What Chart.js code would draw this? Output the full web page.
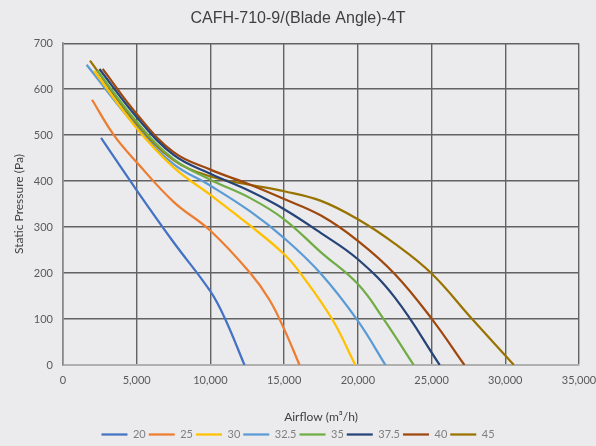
<!DOCTYPE html>
<html>
<head>
<meta charset="utf-8">
<script src="https://cdn.jsdelivr.net/npm/chart.js@4/dist/chart.umd.min.js"></script>
<style>
  html, body { margin: 0; padding: 0; background: #ebebed; }
  #wrap { width: 596px; height: 446px; }
</style>
</head>
<body>
<div id="wrap"><canvas id="c" width="596" height="446"></canvas></div>
<script>
// blade angles (legend) and colours
const angles = ['20', '25', '30', '32.5', '35', '37.5', '40', '45'];
const colors = ['#4472C4', '#ED7D31', '#FFC000', '#5B9BD5', '#70AD47', '#264478', '#9E480E', '#997300'];

// airflow (m3/h) / static pressure (Pa)
const airflow20 = [2580, 5000, 7500, 10000, 11000, 12310];
const pressure20 = [494, 380, 267, 160, 100, 0];

const airflow25 = [1970, 3450, 5000, 7500, 10000, 12700, 14000, 15000, 16045];
const pressure25 = [577, 500, 441, 355, 292, 200, 142, 78, 0];

const airflow30 = [2100, 5000, 7500, 10000, 12700, 15000, 16100, 18250, 19830];
const pressure30 = [640, 515, 430, 370, 303, 241, 200, 100, 0];

const airflow325 = [1600, 5000, 7500, 10000, 12700, 15000, 17450, 20000, 21870];
const pressure325 = [653, 517, 437, 390, 334, 276, 200, 96, 0];

const airflow35 = [2320, 5000, 7500, 10000, 12700, 15000, 17500, 20000, 21750, 23790];
const pressure35 = [641, 529, 448, 403, 363, 317, 245, 176, 100, 0];

const airflow375 = [2470, 5000, 7500, 10000, 12700, 15000, 17500, 20000, 22500, 25555];
const pressure375 = [644, 539, 457, 416, 378, 339, 287, 230, 147, 0];

const airflow40 = [2690, 5000, 7500, 10000, 12700, 15000, 17500, 20000, 22500, 25000, 27230];
const pressure40 = [644, 546, 463, 425, 392, 361, 325, 270, 198, 101, 0];

const airflow45 = [1830, 5000, 7500, 10000, 12700, 15000, 17500, 20000, 22500, 25000, 27750, 30585];
const pressure45 = [662, 524, 446, 410, 392, 378, 357, 317, 264, 199, 100, 0];

const airflows = [airflow20, airflow25, airflow30, airflow325, airflow35, airflow375, airflow40, airflow45];
const pressures = [pressure20, pressure25, pressure30, pressure325, pressure35, pressure375, pressure40, pressure45];

// axis ticks
const xTicks = [0, 5000, 10000, 15000, 20000, 25000, 30000, 35000];
const yTicks = [0, 100, 200, 300, 400, 500, 600, 700];

const FONT = 'Lato, "Open Sans", sans-serif';

const datasets = angles.map((a, i) => ({
    label: a,
    data: airflows[i].map((x, j) => ({ x: x, y: pressures[i][j] })),
    borderColor: colors[i],
    backgroundColor: colors[i],
    borderWidth: 2.25,
    pointRadius: 0,
    tension: 0.4
}));

const bgPlugin = {
    id: 'bg',
    beforeDraw: (chart) => {
        const ctx = chart.ctx;
        ctx.save();
        ctx.fillStyle = '#ebebed';
        ctx.fillRect(0, 0, chart.width, chart.height);
        ctx.restore();
    }
};

new Chart(document.getElementById('c'), {
    type: 'line',
    data: { datasets: datasets },
    plugins: [bgPlugin],
    options: {
        responsive: false,
        animation: false,
        layout: { padding: { left: 0, right: 0, top: 0, bottom: -4 } },
        plugins: {
            title: {
                display: true,
                text: 'CAFH-710-9/(Blade Angle)-4T',
                color: '#404040',
                font: { family: '"Liberation Sans", Arial, sans-serif', size: 16, weight: 'normal' },
                padding: { top: 9, bottom: 15 }
            },
            legend: {
                position: 'bottom',
                labels: {
                    usePointStyle: true,
                    pointStyle: 'line',
                    pointStyleWidth: 26,
                    color: '#7f7f7f',
                    font: { family: FONT, size: 11 },
                    padding: 3
                }
            },
            tooltip: { enabled: false }
        },
        scales: {
            x: {
                type: 'linear',
                min: 0,
                max: 35000,
                afterBuildTicks: (s) => { s.ticks = xTicks.map(v => ({ value: v })); },
                afterFit: (s) => { s.height = 61; s.paddingRight = 17; },
                grid: { color: '#626262', lineWidth: 1.4, drawTicks: false },
                border: { color: '#b0b0b0', width: 2 },
                ticks: {
                    color: '#595959',
                    font: { family: FONT, size: 11 },
                    padding: 9,
                    maxRotation: 0,
                    callback: (v) => v.toLocaleString('en-US')
                },
                title: {
                    display: true,
                    text: 'Airflow (m³/h)',
                    color: '#404040',
                    font: { family: FONT, size: 12 },
                    padding: { top: 22, bottom: 2 }
                }
            },
            y: {
                min: 0,
                max: 700,
                afterBuildTicks: (s) => { s.ticks = yTicks.map(v => ({ value: v })); },
                afterFit: (s) => { s.width = 63; },
                grid: { color: '#626262', lineWidth: 1.4, drawTicks: false },
                border: { color: '#888888', width: 1.5 },
                ticks: {
                    color: '#595959',
                    font: { family: FONT, size: 11 },
                    padding: 10
                },
                title: {
                    display: true,
                    text: 'Static Pressure (Pa)',
                    color: '#404040',
                    font: { family: FONT, size: 12 },
                    padding: { top: 12, bottom: 0 }
                }
            }
        }
    }
});
</script>
</body>
</html>
